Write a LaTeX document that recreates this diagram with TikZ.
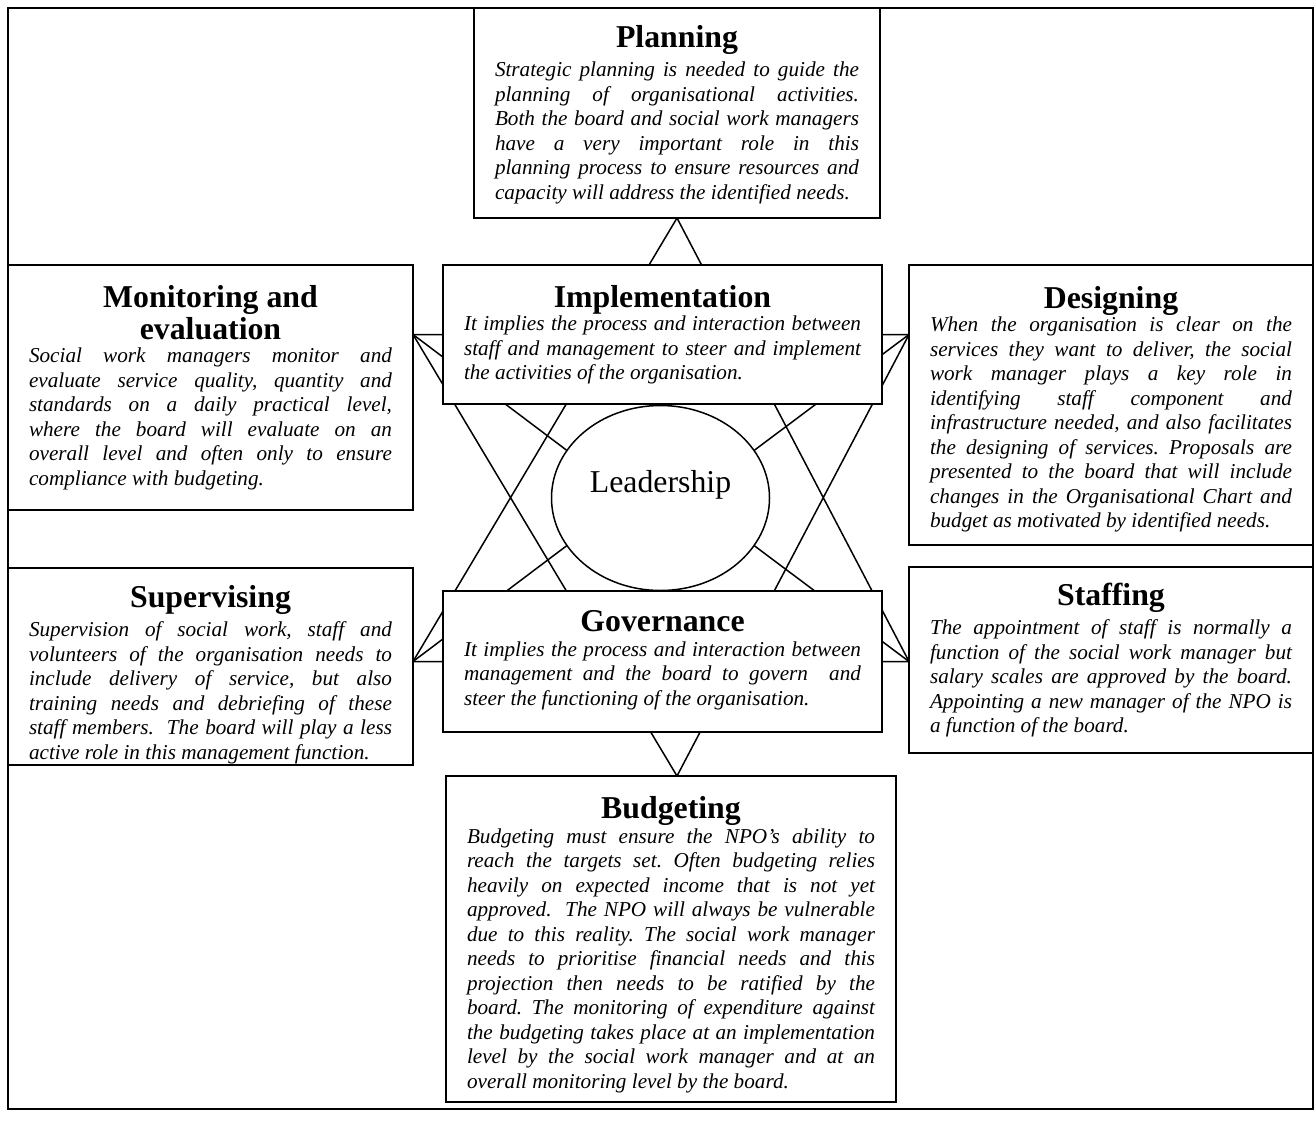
\documentclass[tikz,border=0pt]{standalone}
\usepackage{fontspec}
\setmainfont{Liberation Serif}
\usetikzlibrary{shapes.geometric,backgrounds}

\newcommand\headtext{\fontsize{31.8pt}{32pt}\selectfont\bfseries}
\newcommand\bodytext{\fontsize{21.2pt}{24.5pt}\selectfont\itshape}

\tikzset{
  infobox/.style={draw, fill=white, line width=1.8pt, inner xsep=21pt, inner ysep=0pt, outer sep=0pt},
  starline/.style={line width=1.5pt},
  frameline/.style={line width=1.8pt},
  hub/.style={draw, fill=white, ellipse, line width=1.5pt, inner sep=0pt, minimum width=218pt, minimum height=185pt}
}

% #1 name, #2 left, #3 top, #4 width, #5 height,
% #6 title baseline below top, #7 title-to-body baseline gap, #8 title, #9 body
\newcommand\infobox[9]{%
  \node[infobox, anchor=north west] (#1) at (#2,#3) {%
    \begin{minipage}[c][#5pt][t]{\dimexpr#4pt-42pt\relax}%
      \tolerance=10000 \hbadness=10000 \hyphenpenalty=10000 \frenchspacing
      {\centering\headtext\rule{0pt}{#6pt}#8\par}%
      \vspace{\dimexpr#7pt-24.5pt\relax}%
      {\bodytext #9\par}%
    \end{minipage}};}

\begin{document}
\begin{tikzpicture}[x=1pt,y=-1pt]
\useasboundingbox (0,0) rectangle (1315,1120);

\infobox{plan}{474}{8}{406}{210}{39}{29.8}{Planning}{%
Strategic planning is needed to guide the\linebreak
planning of organisational activities.\linebreak
Both the board and social work managers\linebreak
have a very important role in this\linebreak
planning process to ensure resources and\linebreak
capacity will address the identified needs.}

\infobox{mon}{8}{265}{405}{245}{42}{23.5}{Monitoring and\\evaluation}{%
Social work managers monitor and\linebreak
evaluate service quality, quantity and\linebreak
standards on a daily practical level,\linebreak
where the board will evaluate on an\linebreak
overall level and often only to ensure\linebreak
compliance with budgeting.}

\infobox{impl}{443}{265}{439}{139}{42.2}{23.5}{Implementation}{%
It implies the process and interaction between\linebreak
staff and management to steer and implement\linebreak
the activities of the organisation.}

\infobox{des}{909}{265}{404}{280}{43}{23.5}{Designing}{%
When the organisation is clear on the\linebreak
services they want to deliver, the social\linebreak
work manager plays a key role in\linebreak
identifying staff component and\linebreak
infrastructure needed, and also facilitates\linebreak
the designing of services. Proposals are\linebreak
presented to the board that will include\linebreak
changes in the Organisational Chart and\linebreak
budget as motivated by identified needs.}

\infobox{sup}{8}{568}{405}{197}{39.2}{29.5}{Supervising}{%
Supervision of social work, staff and\linebreak
volunteers of the organisation needs to\linebreak
include delivery of service, but also\linebreak
training needs and debriefing of these\linebreak
staff members.\ \ The board will play a less\linebreak
active role in this management function.}

\infobox{gov}{443}{591}{439}{141}{40.5}{24.5}{Governance}{%
It implies the process and interaction between\linebreak
management and the board to govern\ \ and\linebreak
steer the functioning of the organisation.}

\infobox{staff}{909}{567}{404}{186}{38.2}{29.5}{Staffing}{%
The appointment of staff is normally a\linebreak
function of the social work manager but\linebreak
salary scales are approved by the board.\linebreak
Appointing a new manager of the NPO is\linebreak
a function of the board.}

\infobox{budg}{446}{776}{450}{326}{42.8}{24.5}{Budgeting}{%
Budgeting must ensure the NPO’s ability to\linebreak
reach the targets set. Often budgeting relies\linebreak
heavily on expected income that is not yet\linebreak
approved.\ \ The NPO will always be vulnerable\linebreak
due to this reality. The social work manager\linebreak
needs to prioritise financial needs and this\linebreak
projection then needs to be ratified by the\linebreak
board. The monitoring of expenditure against\linebreak
the budgeting takes place at an implementation\linebreak
level by the social work manager and at an\linebreak
overall monitoring level by the board.}

% central hub
\node[hub] (lead) at (660.5,498) {};
\node[font=\fontsize{31.8pt}{32pt}\selectfont, anchor=base, inner sep=0pt] (leadtext) at (660.5,492) {Leadership};

\begin{pgfonlayer}{background}
  \draw[frameline] (8,8) rectangle (1313,1109);
  \coordinate (T) at (plan.south);
  \coordinate (B) at (plan.south |- budg.north);
  \coordinate (LU) at (mon.east |- impl.west);
  \coordinate (RU) at (des.west |- impl.east);
  \coordinate (LL) at (sup.east |- gov.west);
  \coordinate (RL) at (staff.west |- gov.east);
  % the two interlaced triangles and their horizontal ties
  \draw[starline] (T) -- (LL) (T) -- (RL) (B) -- (LU) (B) -- (RU)
                  (LU) -- (RU) (LL) -- (RL);
  % spokes towards the hub
  \draw[starline] (LU) -- (lead.153) (RU) -- (lead.27)
                  (LL) -- (lead.207) (RL) -- (lead.333);
\end{pgfonlayer}
\end{tikzpicture}
\end{document}
